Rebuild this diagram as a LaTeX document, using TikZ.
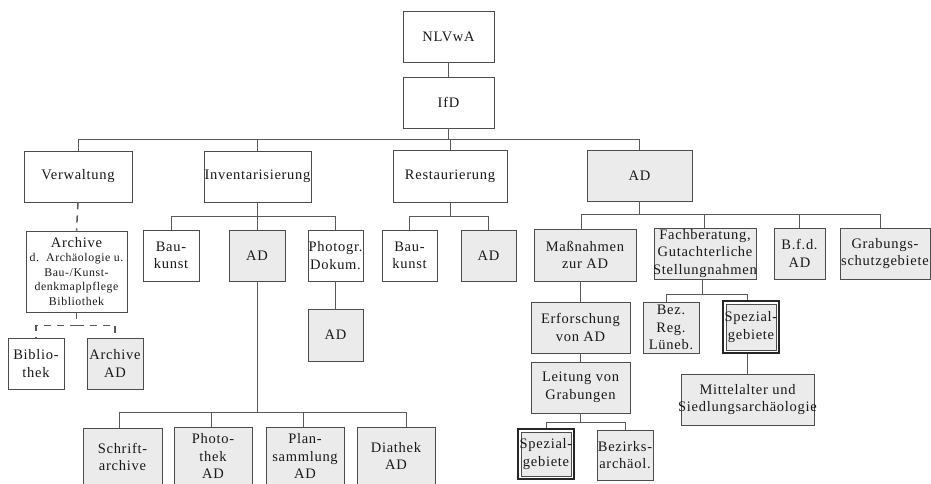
\documentclass[tikz,border=0pt]{standalone}
\usepackage{fontspec}
\setmainfont{Liberation Serif}[LetterSpace=5]
\usepackage{tikz}
\usetikzlibrary{positioning, calc}

\begin{document}
\begin{tikzpicture}[x=1pt, y=-1pt,
    box/.style={draw=black!70, line width=0.8pt, fill=white, align=center, inner sep=0.5pt,
                text=black!90, font=\fontsize{14.5}{17.5}\selectfont},
    adbox/.style={box, fill=black!8},
    spez/.style={adbox, draw=black!85, line width=1.8pt,
        path picture={
            \draw[white, line width=1.6pt] ([shift={(1.7pt,-1.7pt)}]path picture bounding box.north west)
                rectangle ([shift={(-1.7pt,1.7pt)}]path picture bounding box.south east);
            \draw[black!70, line width=0.6pt] ([shift={(3pt,-3pt)}]path picture bounding box.north west)
                rectangle ([shift={(-3pt,3pt)}]path picture bounding box.south east);
        }},
    wh/.style 2 args={minimum width=#1pt, minimum height=#2pt},
    link/.style={draw=black!65, line width=0.8pt},
    dlink/.style={link, line width=1.5pt, dash pattern=on 7pt off 6pt}]

    \useasboundingbox (0,0) rectangle (931,484);
    \clip (0,0) rectangle (931,484);
    \fill[white] (0,0) rectangle (931,484);

    % Top of the chart
    \node[box, wh={91}{51}] (nlvwa) at (448.5,36.5) {NLVwA};
    \node[box, wh={91}{51}] (ifd) at (448.5,102.5) {IfD};

    % Departments
    \node[box, wh={108}{51}] (verw) at (78,176.5) {Verwaltung};
    \node[box, wh={107}{51}, inner xsep=-1pt] (inv) at (257.5,176.5) {Inventarisierung};
    \node[box, wh={114}{52}] (rest) at (450,176) {Restaurierung};
    \node[adbox, wh={105}{51}] (ad) at (639.5,175.5) {AD};

    % Verwaltung branch
    \node[box, wh={101}{81}, font=\fontsize{11.8}{14.5}\selectfont] (arch) at (76.5,271.5)
        {{\fontsize{14.5}{15}\selectfont Archive}\\d.~~Archäologie u.\\Bau-/Kunst-\\denkmaplpflege\\Bibliothek};
    \node[box, wh={56}{51}] (biblio) at (36,363.5) {Biblio-\\thek};
    \node[adbox, wh={56}{51}] (archad) at (115,363.5) {Archive\\AD};

    % Inventarisierung branch
    \node[box, wh={56}{51}] (baua) at (171,255.5) {Bau-\\kunst};
    \node[adbox, wh={56}{51}] (adinv) at (257,255.5) {AD};
    \node[box, wh={55}{51}] (photogr) at (335.5,255.5) {Photogr.\\Dokum.};
    \node[adbox, wh={55}{52}] (adphoto) at (335.5,335) {AD};
    \node[adbox, wh={79}{58}] (schrift) at (122.5,457) {Schrift-\\archive};
    \node[adbox, wh={78}{58}] (photothek) at (213,456) {Photo-\\thek\\AD};
    \node[adbox, wh={78}{58}] (plan) at (305,456) {Plan-\\sammlung\\AD};
    \node[adbox, wh={78}{58}] (diathek) at (396,456) {Diathek\\AD};

    % Restaurierung branch
    \node[box, wh={55}{51}] (baub) at (409.5,255.5) {Bau-\\kunst};
    \node[adbox, wh={55}{51}] (adrest) at (488.5,255.5) {AD};

    % AD branch
    \node[adbox, wh={102}{52}] (mass) at (585,255) {Maßnahmen\\zur AD};
    \node[adbox, wh={102}{51}, inner xsep=-2pt] (fach) at (705,253.5) {Fachberatung,\\Gutachterliche\\Stellungnahmen};
    \node[adbox, wh={51}{51}] (bfd) at (799.5,253.5) {B.f.d.\\AD};
    \node[adbox, wh={90}{51}] (grab) at (885,253.5) {Grabungs-\\schutzgebiete};
    \node[adbox, wh={99}{51}] (erf) at (580.5,327.5) {Erforschung\\von AD};
    \node[adbox, wh={99}{51}] (leit) at (580.5,387.5) {Leitung von\\Grabungen};
    \node[spez, wh={56}{50}] (spezb) at (546,454) {Spezial-\\gebiete};
    \node[adbox, wh={56}{50}] (bez) at (625,455) {Bezirks-\\archäol.};
    \node[adbox, wh={56}{51}] (bezreg) at (671,327.5) {Bez.\\Reg.\\Lüneb.};
    \node[spez, wh={56}{52}] (speza) at (751,327) {Spezial-\\gebiete};
    \node[adbox, wh={133}{51}, inner xsep=-4pt] (mittel) at (747.5,399.5) {Mittelalter und\\Siedlungsarchäologie};

    % Connectors
    \draw[link] (nlvwa) -- (ifd);
    \foreach \c in {verw, inv, rest, ad}
        \draw[link] (ifd.south) -- ++(0,11) -| (\c.north);
    \draw[dlink] (verw.south) -- (arch.north);
    \foreach \c in {biblio, archad}
        \draw[dlink] (arch.south) -- ++(0,13) -| (\c.north);
    \foreach \c in {baua, adinv, photogr}
        \draw[link] (inv.south) -- ++(0,14) -| (\c.north);
    \draw[link] (photogr) -- (adphoto);
    \foreach \c/\dx in {schrift/-3, photothek/-2, plan/-2, diathek/10}
        \draw[link] (adinv.south) -- ++(0,131) -| ([xshift=\dx]\c.north);
    \foreach \c in {baub, adrest}
        \draw[link] (rest.south) -- ++(0,13.5) -| (\c.north);
    \foreach \c/\dx in {mass/-4, fach/-1, bfd/0, grab/-5}
        \draw[link] (ad.south) -- ++(0,13) -| ([xshift=\dx]\c.north);
    \draw[link] (erf.north) -- (erf.north |- mass.south);
    \draw[link] (erf) -- (leit);
    \foreach \c in {spezb, bez}
        \draw[link] (leit.south) -- ++(0,9) -| (\c.north);
    \foreach \c/\dx in {bezreg/-5, speza/-4}
        \draw[link] ([xshift=-3]fach.south) -- ++(0,15) -| ([xshift=\dx]\c.north);
    \draw[link] (mittel.north) -- (mittel.north |- speza.south);
\end{tikzpicture}
\end{document}
